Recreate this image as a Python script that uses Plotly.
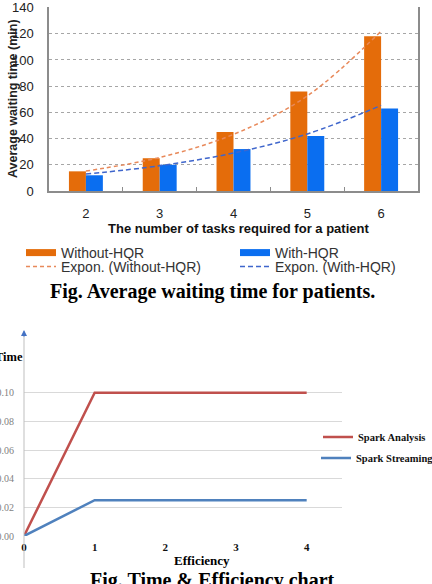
import plotly.graph_objects as go

# ---------------- data: top chart ----------------
tasks = ["2", "3", "4", "5", "6"]
without_hqr = [15, 25, 45, 76, 118]
with_hqr = [12, 20, 32, 42, 63]
expon_without = [15.2, 25.6, 43.2, 72.5, 122]
expon_with = [12.9, 19.3, 29.0, 43.5, 65.3]
top_y_ticks = [0, 20, 40, 60, 80, 100, 120, 140]

# ---------------- data: bottom chart ----------------
efficiency = [0, 1, 2, 3, 4]
spark_analysis = [0, 0.10, 0.10, 0.10, 0.10]
spark_streaming = [0, 0.025, 0.025, 0.025, 0.025]
bot_y_ticks = [0, 0.02, 0.04, 0.06, 0.08, 0.10, 0.12]
bot_y_labels = ["0.00", "0.02", "0.04", "0.06", "0.08", "0.10", ""]
bot_x_ticks = [0, 1, 2, 3, 4]

W, H = 432, 584
def px(x):
    return x / W
def py(y):
    return 1 - y / H

ORANGE = "#E46C0A"
BLUE = "#0A6EF0"
ORANGE_T = "#E8895A"
BLUE_T = "#3F66CC"
RED2 = "#C0504D"
BLUE2 = "#4F81BD"
SANS = "Liberation Sans, Arial, sans-serif"
SERIF = "Liberation Serif, Times New Roman, serif"
CLEAR = "rgba(0,0,0,0)"

fig = go.Figure()

# bars (legend shown via proxies)
fig.add_trace(go.Bar(x=tasks, y=without_hqr, marker_color=ORANGE, marker_line_width=0,
                     showlegend=False, xaxis="x", yaxis="y"))
fig.add_trace(go.Bar(x=tasks, y=with_hqr, marker_color=BLUE, marker_line_width=0,
                     showlegend=False, xaxis="x", yaxis="y"))
# trend lines
fig.add_trace(go.Scatter(x=tasks, y=expon_without, mode="lines",
                         line=dict(color=ORANGE_T, width=1.5, dash="4px,3px", shape="spline"),
                         name="Expon. (Without-HQR)", legend="legend3", xaxis="x", yaxis="y"))
fig.add_trace(go.Scatter(x=tasks, y=expon_with, mode="lines",
                         line=dict(color=BLUE_T, width=1.5, dash="5px,3px", shape="spline"),
                         name="Expon. (With-HQR)", legend="legend4", xaxis="x", yaxis="y"))
# legend proxies for bars
fig.add_trace(go.Scatter(x=[None], y=[None], mode="lines", line=dict(color=ORANGE, width=7),
                         name="Without-HQR", legend="legend", xaxis="x", yaxis="y"))
fig.add_trace(go.Scatter(x=[None], y=[None], mode="lines", line=dict(color=BLUE, width=7),
                         name="With-HQR", legend="legend2", xaxis="x", yaxis="y"))

# bottom chart lines
fig.add_trace(go.Scatter(x=efficiency, y=spark_analysis, mode="lines", line=dict(color=RED2, width=2.5),
                         name="<b>Spark Analysis</b>", legend="legend5", xaxis="x2", yaxis="y2"))
fig.add_trace(go.Scatter(x=efficiency, y=spark_streaming, mode="lines", line=dict(color=BLUE2, width=2.5),
                         name="<b>Spark Streaming</b>", legend="legend6", xaxis="x2", yaxis="y2"))

top_leg = dict(xanchor="left", yanchor="middle", bgcolor=CLEAR,
               font=dict(family=SANS, size=14, color="#333333"))
bot_leg = dict(xanchor="left", yanchor="middle", bgcolor=CLEAR,
               font=dict(family=SERIF, size=10.5, color="#111111"))

fig.update_layout(
    width=W, height=H,
    margin=dict(l=0, r=0, t=0, b=0, autoexpand=False),
    paper_bgcolor="white", plot_bgcolor="white",
    barmode="group", bargap=0.54, bargroupgap=0,
    legend=dict(x=px(21), y=py(253), **top_leg),
    legend2=dict(x=px(235), y=py(253), **top_leg),
    legend3=dict(x=px(21), y=py(267), **top_leg),
    legend4=dict(x=px(235), y=py(267), **top_leg),
    legend5=dict(x=px(318), y=py(437), **bot_leg),
    legend6=dict(x=px(316), y=py(458), **bot_leg),
    xaxis=dict(domain=[px(49), px(418)], type="category", automargin=False,
               showline=True, linecolor="#8C8C8C", linewidth=1.5,
               ticks="inside", tickson="boundaries", ticklen=4, tickcolor="#8C8C8C",
               ticklabelstandoff=10,
               tickfont=dict(family=SANS, size=13, color="#222222"),
               showgrid=False, zeroline=False, anchor="y"),
    yaxis=dict(domain=[py(191), py(7)], range=[0, 140.4], tickvals=top_y_ticks, automargin=False,
               showline=True, linecolor="#8C8C8C", linewidth=1.5, mirror=True,
               showgrid=True, gridcolor="#A6A6A6", griddash="dot", gridwidth=1,
               zeroline=False, ticks="outside", ticklen=11, tickcolor=CLEAR,
               tickfont=dict(family=SANS, size=13, color="#222222"), anchor="x"),
    xaxis2=dict(domain=[px(24), px(342)], range=[0, 4.5], tickvals=bot_x_ticks, automargin=False,
                showline=False, showgrid=False, zeroline=False,
                ticks="outside", ticklen=1, tickcolor=CLEAR,
                tickfont=dict(family=SERIF, size=11, color="#111111", weight="bold"),
                anchor="y2"),
    yaxis2=dict(domain=[py(536), py(364)], range=[0, 0.12], tickvals=bot_y_ticks, ticktext=bot_y_labels,
                automargin=False,
                showline=False, showgrid=True, gridcolor="#D9D9D9", gridwidth=1, zeroline=False,
                ticks="outside", ticklen=7, tickcolor=CLEAR,
                tickfont=dict(family=SERIF, size=10, color="#7F7F7F"), anchor="x2"),
    shapes=[
        dict(type="line", xref="paper", yref="paper", x0=px(24), x1=px(24), y0=py(568), y1=py(333),
             line=dict(color="#BFBFBF", width=1)),
    ],
    annotations=[
        dict(text="<b>Average waiting time (min)</b>", xref="paper", yref="paper", x=px(13), y=py(99),
             textangle=-90, showarrow=False, font=dict(family=SANS, size=12.5, color="#222222"),
             xanchor="center", yanchor="middle"),
        dict(text="<b>The number of tasks required for a patient</b>", xref="paper", yref="paper",
             x=px(238.5), y=py(229), showarrow=False, font=dict(family=SANS, size=13, color="#111111"),
             xanchor="center", yanchor="middle"),
        dict(text="<b>Fig. Average waiting time for patients.</b>", xref="paper", yref="paper",
             x=px(212.5), y=py(291), showarrow=False, font=dict(family=SERIF, size=20, color="#000000"),
             xanchor="center", yanchor="middle"),
        dict(text="<b>Time</b>", xref="paper", yref="paper", x=px(25), y=py(357), showarrow=False,
             font=dict(family=SERIF, size=12.5, color="#000000"), xanchor="right", yanchor="middle"),
        dict(text="<b>Efficiency</b>", xref="paper", yref="paper", x=px(202), y=py(560), showarrow=False,
             font=dict(family=SERIF, size=13, color="#000000"), xanchor="center", yanchor="middle"),
        dict(text="<b>Fig. Time &amp; Efficiency chart</b>", xref="paper", yref="paper",
             x=px(212), y=py(580), showarrow=False, font=dict(family=SERIF, size=20, color="#000000"),
             xanchor="center", yanchor="middle"),
        dict(text="", xref="paper", yref="paper", x=px(24), y=py(330), ax=0, ay=8,
             showarrow=True, arrowhead=2, arrowsize=1, arrowwidth=1.2, arrowcolor="#4472C4"),
    ],
)

fig.write_html("out.html", config={"displayModeBar": False})
